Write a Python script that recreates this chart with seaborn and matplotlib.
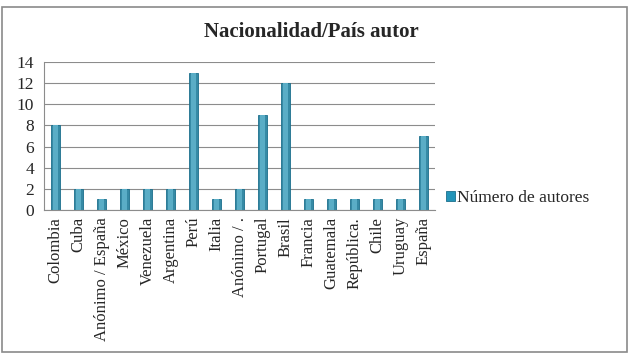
import numpy as np
import pandas as pd
import matplotlib
matplotlib.use("Agg")
import matplotlib.pyplot as plt
from matplotlib.patches import Rectangle
import seaborn as sns

# chart data
paises = ["Colombia", "Cuba", "Anónimo / España", "México", "Venezuela", "Argentina",
          "Perú", "Italia", "Anónimo / .", "Portugal", "Brasil", "Francia",
          "Guatemala", "República.", "Chile", "Uruguay", "España"]
autores = [8, 2, 1, 2, 2, 2, 13, 1, 2, 9, 12, 1, 1, 1, 1, 1, 7]
y_ticks = [0, 2, 4, 6, 8, 10, 12, 14]

df = pd.DataFrame({"pais": paises, "autores": autores})

sns.set_style("white")
plt.rcParams["font.family"] = ["Liberation Serif", "DejaVu Serif"]

fig = plt.figure(figsize=(6.3, 3.6), dpi=100)
ax = fig.add_axes([44 / 630, 1 - 210 / 360, (435 - 44) / 630, (210 - 62) / 360])

bar_color = "#2394B8"
sns.barplot(data=df, x="pais", y="autores", color=bar_color, width=0.42,
            edgecolor="#1B6F8C", linewidth=0.6, ax=ax)
# light highlight down the middle of each bar for the cylinder look
sns.barplot(data=df, x="pais", y="autores", color="#48B6D8", width=0.18,
            linewidth=0, ax=ax)
if ax.get_legend() is not None:
    ax.get_legend().remove()

ax.set_ylim(0, 14)
ax.set_xlim(-0.5, len(paises) - 0.5)
ax.set_yticks(y_ticks)
ax.set_yticklabels([str(t) for t in y_ticks], fontsize=12.5)
ax.yaxis.grid(True, color="#8C8C8C", linewidth=0.8)
ax.set_axisbelow(True)
ax.set_xlabel("")
ax.set_ylabel("")

ax.set_xticks(range(len(paises)))
ax.set_xticklabels(paises, rotation=90, fontsize=12, va="top", ha="center")
ax.set_xticks(np.arange(-0.5, len(paises), 1), minor=True)
ax.tick_params(axis="x", which="major", length=0, pad=5)
ax.tick_params(axis="x", which="minor", length=5, color="#8C8C8C", direction="out")
ax.tick_params(axis="y", length=4, color="#8C8C8C", direction="out", pad=3)

for side in ["top", "right"]:
    ax.spines[side].set_visible(False)
for side in ["left", "bottom"]:
    ax.spines[side].set_color("#8C8C8C")
    ax.spines[side].set_linewidth(0.8)

fig.text(311 / 630, 1 - 32 / 360, "Nacionalidad/País autor", ha="center", va="center",
         fontsize=15, fontweight="bold")

handle = Rectangle((0, 0), 1, 1, facecolor=bar_color, edgecolor="#1B6F8C", linewidth=0.6)
fig.legend([handle], ["Número de autores"], loc="center left",
           bbox_to_anchor=(446 / 630, 1 - 198 / 360), borderaxespad=0, borderpad=0,
           frameon=False, fontsize=12.5, handlelength=0.5, handleheight=0.5, handletextpad=0.15)

fig.patches.append(Rectangle((2 / 630, 8 / 360), 625 / 630, 345 / 360, transform=fig.transFigure,
                             fill=False, edgecolor="#8A8A8A", linewidth=1.2))

fig.savefig("out.png", dpi=100)
